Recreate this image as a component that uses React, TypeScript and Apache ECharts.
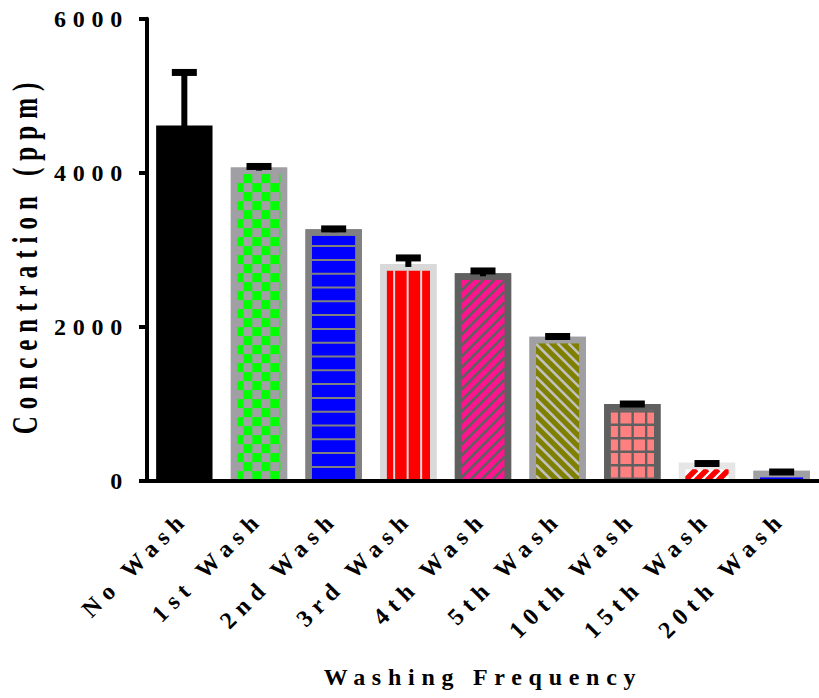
import React, { useEffect, useRef } from "react";
import * as echarts from "echarts";

const categories = [
  "No Wash",
  "1st Wash",
  "2nd Wash",
  "3rd Wash",
  "4th Wash",
  "5th Wash",
  "10th Wash",
  "15th Wash",
  "20th Wash",
];
const meanValues = [4575, 4027, 3227, 2776, 2655, 1832, 957, 195, 91];
const sdValues = [727, 54, 43, 117, 69, 41, 39, 28, 22];
const yMin = 0;
const yMax = 6000;
const yStep = 2000;
const yTitle = "Concentration (ppm)";
const xTitle = "Washing Frequency";

type BarLook = { kind: string; border: string; base: string; line?: string };
const barLooks: BarLook[] = [
  { kind: "solid", border: "#000000", base: "#000000" },
  { kind: "checker", border: "#a0a0a4", base: "#a0a0a4", line: "#00ff00" },
  { kind: "hlines", border: "#808080", base: "#0000ff", line: "#808080" },
  { kind: "vlines", border: "#d9d9d9", base: "#ff0000", line: "#d9d9d9" },
  { kind: "fdiag", border: "#606060", base: "#ff1490", line: "#606060" },
  { kind: "bdiag", border: "#a0a0a4", base: "#808000", line: "#c0c0c0" },
  { kind: "grid", border: "#606060", base: "#ff8080", line: "#606060" },
  { kind: "stripe", border: "#e6e6e6", base: "#ffffff", line: "#ff0000" },
  { kind: "plain", border: "#a0a0a4", base: "#0000ff" },
];

const FONT = "'Liberation Serif', 'Times New Roman', serif";

function renderItem(params: any, api: any) {
  const idx = api.value(0);
  const mean = api.value(1);
  const sd = api.value(2);
  const pMean = api.coord([idx, mean]);
  const p0 = api.coord([idx, 0]);
  const pErr = api.coord([idx, mean + sd]);
  const cx = pMean[0];
  const yMean = pMean[1];
  const y0 = p0[1];
  const yErr = pErr[1];
  const band = api.size([1, 0])[0];
  const w = band * 0.755;
  const b = 6.5;
  const look = barLooks[idx];
  const children: any[] = [];
  const outerTop = yMean - 3;
  const left = cx - w / 2;
  const right = cx + w / 2;
  children.push({
    type: "rect",
    shape: { x: left, y: outerTop, width: w, height: y0 - outerTop },
    style: { fill: look.border },
  });
  const ix1 = left + b;
  const ix2 = right - b;
  const iy1 = outerTop + b;
  const iy2 = y0;
  if (look.kind !== "solid" && iy2 > iy1) {
    children.push({
      type: "rect",
      shape: { x: ix1, y: iy1, width: ix2 - ix1, height: iy2 - iy1 },
      style: { fill: look.base },
    });
    const addRect = (x: number, y: number, ww: number, hh: number, color: string) => {
      const xa = Math.max(x, ix1);
      const xb = Math.min(x + ww, ix2);
      const ya = Math.max(y, iy1);
      const yb = Math.min(y + hh, iy2);
      if (xb > xa && yb > ya) {
        children.push({
          type: "rect",
          shape: { x: xa, y: ya, width: xb - xa, height: yb - ya },
          style: { fill: color },
        });
      }
    };
    const lc = look.line || "#808080";
    if (look.kind === "checker") {
      const s = 9;
      let r = 0;
      for (let y = iy1; y < iy2; y += s, r++) {
        let c = 0;
        for (let x = ix1 - 3; x < ix2; x += s, c++) {
          if ((r + c) % 2 === 1) addRect(x, y, s, s, lc);
        }
      }
    } else if (look.kind === "hlines") {
      for (let y = iy2 - 13.8; y > iy1; y -= 13.8) addRect(ix1, y - 1, ix2 - ix1, 2, lc);
    } else if (look.kind === "vlines") {
      for (let x = ix1 + 7.5; x < ix2; x += 13.5) addRect(x - 1, iy1, 2, iy2 - iy1, lc);
    } else if (look.kind === "grid") {
      for (let x = ix1 + 8.5; x < ix2; x += 13.5) addRect(x - 1.2, iy1, 2.4, iy2 - iy1, lc);
      for (let y = iy2 - 2; y > iy1; y -= 13.5) addRect(ix1, y - 1.2, ix2 - ix1, 2.4, lc);
    } else if (look.kind === "fdiag" || look.kind === "stripe") {
      const p = 11;
      const lw = look.kind === "stripe" ? 5.5 : 2.6;
      for (let c = ix1 + iy1; c < ix2 + iy2 + p; c += p) {
        const xa = Math.max(ix1, c - iy2);
        const xb = Math.min(ix2, c - iy1);
        if (xb > xa) {
          children.push({
            type: "line",
            shape: { x1: xa, y1: c - xa, x2: xb, y2: c - xb },
            style: { stroke: lc, lineWidth: lw },
          });
        }
      }
    } else if (look.kind === "bdiag") {
      const p = 11;
      for (let c = iy1 - ix2; c < iy2 - ix1 + p; c += p) {
        const xa = Math.max(ix1, iy1 - c);
        const xb = Math.min(ix2, iy2 - c);
        if (xb > xa) {
          children.push({
            type: "line",
            shape: { x1: xa, y1: xa + c, x2: xb, y2: xb + c },
            style: { stroke: lc, lineWidth: 2.6 },
          });
        }
      }
    }
    children.push({
      type: "polyline",
      shape: {
        points: [
          [ix1 - b / 2, y0],
          [ix1 - b / 2, iy1 - b / 2],
          [ix2 + b / 2, iy1 - b / 2],
          [ix2 + b / 2, y0],
        ],
      },
      style: { stroke: look.border, lineWidth: b, fill: null },
    });
  }
  children.push({
    type: "line",
    shape: { x1: cx, y1: yMean, x2: cx, y2: yErr },
    style: { stroke: "#000000", lineWidth: 6 },
  });
  children.push({
    type: "rect",
    shape: { x: cx - 12.5, y: yErr - 3.5, width: 25, height: 7 },
    style: { fill: "#000000" },
  });
  return { type: "group", children };
}

export default function App() {
  const ref = useRef<HTMLDivElement>(null);
  useEffect(() => {
    if (!ref.current) return;
    const chart = echarts.init(ref.current, null, { renderer: "svg" });
    const data = categories.map((_, i) => [i, meanValues[i], sdValues[i]]);
    chart.setOption({
      animation: false,
      backgroundColor: "#ffffff",
      grid: { left: 147, top: 18.7, height: 462, width: 679.5 },
      graphic: [
        {
          type: "text",
          x: 25,
          y: 255,
          rotation: Math.PI / 2,
          scaleY: 1.45,
          style: {
            text: yTitle,
            font: `bold 25px ${FONT}`,
            fill: "#000",
            textAlign: "center",
            textVerticalAlign: "middle",
          },
        },
      ],
      xAxis: {
        type: "category",
        data: categories,
        z: 10,
        name: xTitle,
        nameLocation: "middle",
        nameGap: 184,
        nameTextStyle: { fontFamily: FONT, fontWeight: "bold", fontSize: 24, color: "#000" },
        axisLine: { lineStyle: { color: "#000", width: 4 } },
        axisTick: { alignWithLabel: true, length: 8, lineStyle: { color: "#000", width: 4 } },
        axisLabel: {
          rotate: 45,
          margin: 34,
          fontFamily: FONT,
          fontWeight: "bold",
          fontSize: 24,
          color: "#000",
          interval: 0,
        },
      },
      yAxis: {
        type: "value",
        min: yMin,
        max: yMax,
        interval: yStep,
        z: 10,
        axisLine: { show: true, lineStyle: { color: "#000", width: 4 } },
        axisTick: { show: true, length: 8, lineStyle: { color: "#000", width: 4 } },
        splitLine: { show: false },
        axisLabel: {
          margin: 18,
          fontFamily: FONT,
          fontWeight: "bold",
          fontSize: 24,
          color: "#000",
          formatter: (v: number) => String(v),
        },
      },
      series: [
        {
          type: "custom",
          renderItem,
          data,
          encode: { x: 0, y: 1 },
          clip: false,
        },
      ],
    });
    return () => chart.dispose();
  }, []);
  return (
    <>
      <style>{`#chartbox text { letter-spacing: 0.28em; }`}</style>
      <div
        id="chartbox"
        ref={ref}
        style={{ position: "fixed", left: 0, top: 0, width: 819, height: 698, background: "#fff" }}
      />
    </>
  );
}
